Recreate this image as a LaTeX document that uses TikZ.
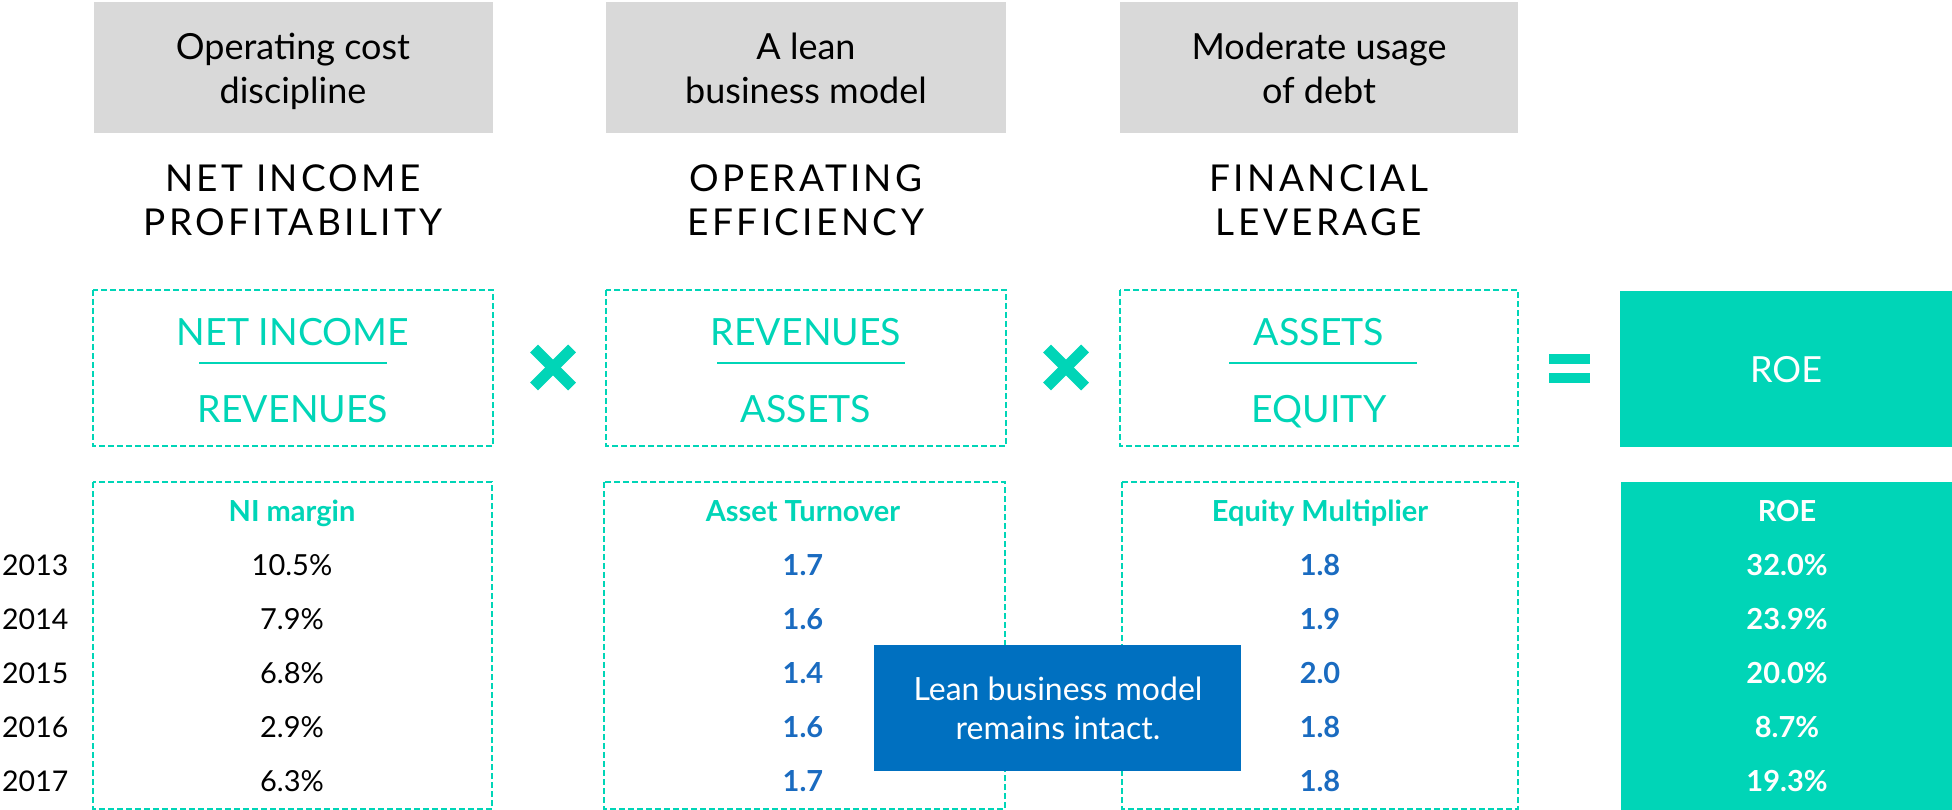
\documentclass[tikz,border=0pt]{standalone}
\usepackage{fontspec}
\setmainfont{Lato}
\definecolor{tealc}{HTML}{00D5B7}
\definecolor{grayc}{HTML}{D9D9D9}
\definecolor{bluec}{HTML}{0070C0}
\definecolor{valblue}{HTML}{1A6BC0}
\begin{document}
\begin{tikzpicture}[x=1pt,y=-1pt,
  every node/.style={inner sep=0pt, anchor=base},
  graybox/.style={fill=grayc},
  dbox/.style={draw=tealc, line width=2pt, dash pattern=on 6pt off 3pt},
  graytxt/.style={font=\fontsize{36}{40}\selectfont, text=black},
  headtxt/.style={font=\fontsize{37}{40}\selectfont\addfontfeature{LetterSpace=9}, text=black},
  fractxt/.style={font=\fontsize{37.5}{40}\selectfont, text=tealc},
  fracline/.style={draw=tealc, line width=1.5pt},
  colhead/.style={font=\fontsize{29}{30}\selectfont\bfseries, text=tealc},
  yeartxt/.style={font=\fontsize{28.5}{30}\selectfont, text=black, anchor=base west},
  valtxt/.style={font=\fontsize{29}{30}\selectfont, text=black},
  bvaltxt/.style={font=\fontsize{29}{30}\selectfont\bfseries, text=valblue},
  roetxt/.style={font=\fontsize{29}{30}\selectfont\bfseries, text=white},
  timesop/.style={draw=tealc, line width=11pt, line cap=butt},
  optxt/.style={fill=tealc, draw=none}
]
\useasboundingbox (0,0) rectangle (1952,810);

% gray boxes
\fill[graybox] (94,2) rectangle (493,133);
\fill[graybox] (606,2) rectangle (1006,133);
\fill[graybox] (1120,2) rectangle (1518,133);
\node[graytxt] (g1a) at (293,60) {Operating cost};
\node[graytxt] (g1b) at (293,104) {discipline};
\node[graytxt] (g2a) at (806,60) {A lean};
\node[graytxt] (g2b) at (806,104) {business model};
\node[graytxt] (g3a) at (1319,60) {Moderate usage};
\node[graytxt] (g3b) at (1319,104) {of debt};

% headings
\node[headtxt] (h1a) at (293,192) {NET INCOME};
\node[headtxt] (h1b) at (293,236) {PROFITABILITY};
\node[headtxt] (h2a) at (806,192) {OPERATING};
\node[headtxt] (h2b) at (806,236) {EFFICIENCY};
\node[headtxt] (h3a) at (1319,192) {FINANCIAL};
\node[headtxt] (h3b) at (1319,236) {LEVERAGE};

% fraction boxes
\draw[dbox] (93,290) rectangle (493,446);
\draw[dbox] (606,290) rectangle (1006,446);
\draw[dbox] (1120,290) rectangle (1518,446);
\node[fractxt] (f1n) at (293,345) {NET INCOME};
\node[fractxt] (f1d) at (293,422) {REVENUES};
\node[fractxt] (f2n) at (806,345) {REVENUES};
\node[fractxt] (f2d) at (806,422) {ASSETS};
\node[fractxt] (f3n) at (1319,345) {ASSETS};
\node[fractxt] (f3d) at (1319,422) {EQUITY};
\draw[fracline] (199,363) -- (387,363);
\draw[fracline] (717,363) -- (905,363);
\draw[fracline] (1229,363) -- (1417,363);

% operators
\coordinate (x1) at (553,367.5);
\coordinate (x2) at (1066,367.5);
\draw[timesop] ([shift={(-19,-19)}]x1) -- ([shift={(19,19)}]x1);
\draw[timesop] ([shift={(19,-19)}]x1) -- ([shift={(-19,19)}]x1);
\draw[timesop] ([shift={(-19,-19)}]x2) -- ([shift={(19,19)}]x2);
\draw[timesop] ([shift={(19,-19)}]x2) -- ([shift={(-19,19)}]x2);
\fill[optxt] (1549,354) rectangle (1590,364);
\fill[optxt] (1549,373) rectangle (1590,383);

% ROE box
\fill[tealc] (1620,291) rectangle (1952,447);
\node[font=\fontsize{36}{40}\selectfont, text=white] (roe) at (1786,382) {ROE};

% lower boxes
\draw[dbox] (93,482) rectangle (492,809);
\draw[dbox] (604,482) rectangle (1005,809);
\draw[dbox] (1122,482) rectangle (1518,809);
\fill[tealc] (1621,482) rectangle (1952,810);

\node[colhead] (c1) at (292,521) {NI margin};
\node[colhead] (c2) at (803,521) {Asset Turnover};
\node[colhead] (c3) at (1320,521) {Equity Multiplier};
\node[roetxt] (c4) at (1787,521) {ROE};

\foreach \i/\yr/\a/\b/\c/\d in {0/2013/10.5\%/1.7/1.8/32.0\%,1/2014/7.9\%/1.6/1.9/23.9\%,2/2015/6.8\%/1.4/2.0/20.0\%,3/2016/2.9\%/1.6/1.8/8.7\%,4/2017/6.3\%/1.7/1.8/19.3\%}{
  \node[yeartxt] (yr\i) at (2,575+54.2*\i) {\yr};
  \node[valtxt] (va\i) at (292,575+54.2*\i) {\a};
  \node[bvaltxt] (vb\i) at (803,575+54.2*\i) {\b};
  \node[bvaltxt] (vc\i) at (1320,575+54.2*\i) {\c};
  \node[roetxt] (vd\i) at (1787,575+54.2*\i) {\d};
}

% callout
\fill[bluec] (874,645) rectangle (1241,771);
\node[font=\fontsize{32}{34}\selectfont, text=white] (call1) at (1058,700) {Lean business model};
\node[font=\fontsize{32}{34}\selectfont, text=white] (call2) at (1058,739) {remains intact.};
\end{tikzpicture}
\end{document}
